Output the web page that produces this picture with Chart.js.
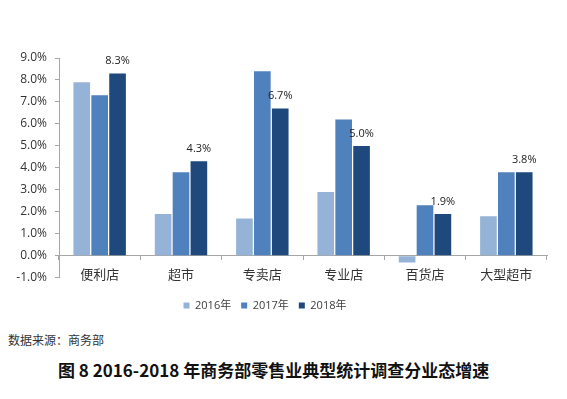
<!DOCTYPE html>
<html>
<head>
<meta charset="utf-8">
<script src="https://cdn.jsdelivr.net/npm/chart.js@4/dist/chart.umd.min.js"></script>
<style>
    body { margin: 0; background: #fff; width: 567px; height: 399px; overflow: hidden; position: relative; }
    #wrap { position: absolute; left: -17px; top: 0; width: 584px; height: 321px; }
    #source { position: absolute; left: 8px; top: 331px; font: 12px "Noto Sans CJK SC", sans-serif; color: #333; }
    #caption { position: absolute; left: 58px; top: 357px; font: bold 17px "Noto Sans CJK SC", sans-serif; color: #111; white-space: nowrap; }
</style>
</head>
<body>
<div id="wrap"><canvas id="chart"></canvas></div>
<div id="source">数据来源：商务部</div>
<div id="caption">图 8 2016-2018 年商务部零售业典型统计调查分业态增速</div>
<script>
// categories and series (percent)
const categories = ['便利店', '超市', '专卖店', '专业店', '百货店', '大型超市']
const years = ['2016年', '2017年', '2018年']
const values2016 = [7.9, 1.9, 1.7, 2.9, -0.3, 1.8]
const values2017 = [7.3, 3.8, 8.4, 6.2, 2.3, 3.8]
const values2018 = [8.3, 4.3, 6.7, 5.0, 1.9, 3.8]
const colours = ['#95b3d7', '#4f81bd', '#1f497d']

// only the 2018 bars carry a label
const labelPlugin = {
    id: 'barLabels',
    afterDatasetsDraw(chart) {
        var ctx = chart.ctx
        var meta = chart.getDatasetMeta(2)
        ctx.save()
        ctx.font = '11px "Open Sans", sans-serif'
        ctx.fillStyle = '#222'
        ctx.textAlign = 'center'
        ctx.textBaseline = 'bottom'
        meta.data.forEach(function (bar, i) {
            ctx.fillText(values2018[i].toFixed(1) + '%', bar.x, bar.y - 7)
        })
        ctx.restore()
    }
}

var datasets = [values2016, values2017, values2018].map(function (vals, i) {
    return {
        label: years[i],
        data: vals,
        backgroundColor: colours[i],
        categoryPercentage: 0.66,
        barPercentage: 0.93
    }
})

new Chart(document.getElementById('chart'), {
    type: 'bar',
    data: { labels: categories, datasets: datasets },
    plugins: [labelPlugin],
    options: {
        responsive: true,
        maintainAspectRatio: false,
        animation: false,
        layout: { padding: { left: 0, right: 20, top: 58, bottom: 0 } },
        plugins: {
            tooltip: { enabled: false },
            legend: {
                position: 'bottom',
                // empty title only adds a little space above the items
                title: { display: true, text: '', font: { size: 1 }, padding: { top: 11, bottom: 0 } },
                labels: {
                    boxWidth: 6,
                    boxHeight: 6,
                    padding: 10,
                    color: '#404040',
                    font: { size: 11, family: '"Open Sans", "Noto Sans CJK SC", sans-serif' }
                }
            }
        },
        scales: {
            x: {
                position: { y: 0 },
                grid: {
                    offset: true,
                    drawOnChartArea: false,
                    drawTicks: true,
                    tickLength: 4,
                    color: '#a6a6a6'
                },
                border: { color: '#a6a6a6', width: 1 },
                ticks: {
                    color: '#333',
                    padding: 6,
                    font: { size: 13, family: '"Noto Sans CJK SC", sans-serif' }
                }
            },
            y: {
                min: -1,
                max: 9,
                afterFit: function (scale) { scale.width = 76 },
                grid: {
                    drawOnChartArea: false,
                    tickLength: 4,
                    color: '#a6a6a6'
                },
                border: { color: '#a6a6a6', width: 1 },
                ticks: {
                    stepSize: 1,
                    color: '#333',
                    padding: 8,
                    font: { size: 12, family: '"Open Sans", sans-serif' },
                    callback: function (v) { return v.toFixed(1) + '%' }
                }
            }
        }
    }
})
</script>
</body>
</html>
